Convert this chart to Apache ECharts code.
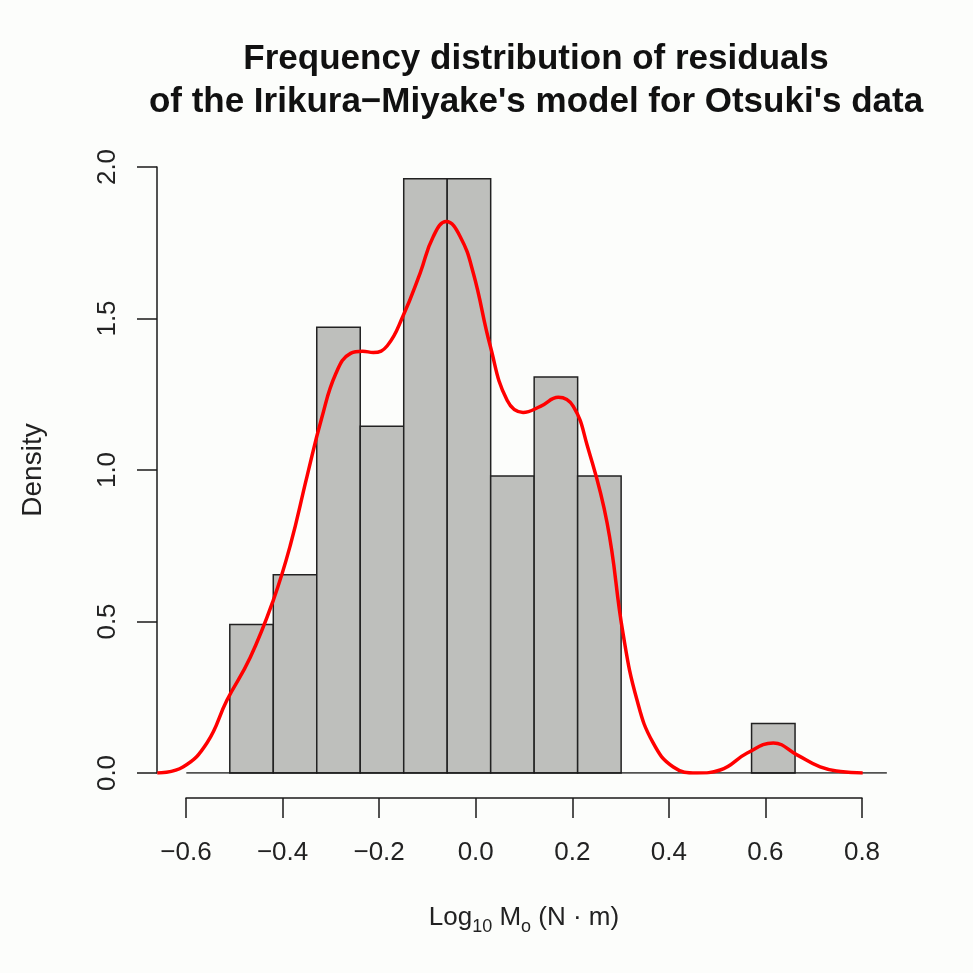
<!DOCTYPE html>
<html>
<head>
<meta charset="UTF-8">
<title>Residuals histogram</title>
<script src="https://cdn.jsdelivr.net/npm/echarts@6/dist/echarts.min.js"></script>
<style>
  html, body { margin: 0; padding: 0; background: #fcfdfb; }
  #chart { width: 973px; height: 973px; }
</style>
</head>
<body>
<div id="chart"></div>
<script>
// histogram bins (left edge, right edge) and density heights
const binLeft  = [-0.51, -0.42, -0.33, -0.24, -0.15, -0.06, 0.03, 0.12, 0.21, 0.30, 0.39, 0.48, 0.57];
const binRight = [-0.42, -0.33, -0.24, -0.15, -0.06, 0.03, 0.12, 0.21, 0.30, 0.39, 0.48, 0.57, 0.66];
const density  = [0.490, 0.654, 1.471, 1.144, 1.961, 1.961, 0.980, 1.307, 0.980, 0, 0, 0, 0.163];

// kernel density curve
const kdeX = [-0.66, -0.607, -0.557, -0.516, -0.468, -0.42, -0.385, -0.35, -0.32,
              -0.29, -0.26, -0.235, -0.213, -0.184, -0.151, -0.116, -0.089, -0.062, -0.033, -0.006,
              0.029, 0.064, 0.097, 0.133, 0.170, 0.201, 0.230, 0.271, 0.304, 0.333,
              0.366, 0.408, 0.457, 0.505, 0.561, 0.615, 0.664, 0.712, 0.754, 0.80];
const kdeY = [0.0, 0.02, 0.10, 0.24, 0.38, 0.57, 0.75, 0.98, 1.17,
              1.32, 1.385, 1.392, 1.388, 1.41, 1.51, 1.65, 1.77, 1.82, 1.77, 1.65,
              1.41, 1.23, 1.19, 1.21, 1.24, 1.21, 1.08, 0.825, 0.46, 0.24,
              0.10, 0.02, 0.0, 0.01, 0.066, 0.099, 0.06, 0.02, 0.005, 0.0];

// zero line
const baseX = [-0.6, 0.85];
const baseY = [0, 0];

const xTicks = [-0.6, 0.8, 0.2];   // min, max, step
const yTicks = [0, 2, 0.5];

const fmt = v => (v < 0 ? '\u2212' : '') + Math.abs(v).toFixed(1);
const font = 'Liberation Sans, Arial, sans-serif';
const ink = '#1a1a1a';

const chart = echarts.init(document.getElementById('chart'));

const histData = binLeft.map((l, i) => [l, binRight[i], density[i]]);

const option = {
  backgroundColor: '#fcfdfb',
  animation: false,
  title: {
    text: 'Frequency distribution of residuals\nof the Irikura\u2212Miyake\'s model for Otsuki\'s data',
    left: 531,
    top: 33,
    textAlign: 'center',
    textStyle: { fontFamily: font, fontWeight: 'bold', fontSize: 35, lineHeight: 43, color: '#111' }
  },
  grid: [
    // data area
    { left: 138, top: 167, width: 773, height: 606 },
    // x axis display
    { left: 186, top: 797, width: 676, height: 1 },
    // y axis display
    { left: 157, top: 167, width: 1, height: 606 }
  ],
  xAxis: [
    { gridIndex: 0, type: 'value', min: -0.7, max: 0.9, show: false },
    {
      gridIndex: 1, type: 'value', min: xTicks[0], max: xTicks[1], interval: xTicks[2],
      position: 'bottom',
      axisLine: { show: true, lineStyle: { color: ink, width: 1.5 } },
      axisTick: { show: true, length: 20, lineStyle: { color: ink, width: 1.5 } },
      splitLine: { show: false },
      axisLabel: { formatter: fmt, fontFamily: font, fontSize: 26, color: '#222', margin: 42 },
      name: '{n|Log}{s|10}{n| M}{s|o}{n| (N \u00b7 m)}',
      nameLocation: 'middle',
      nameGap: 106,
      nameTextStyle: {
        rich: {
          n: { fontFamily: font, fontSize: 26, color: '#222', lineHeight: 32, padding: [0, 0, 5, 0], verticalAlign: 'bottom' },
          s: { fontFamily: font, fontSize: 18, color: '#222', lineHeight: 32, verticalAlign: 'bottom' }
        }
      }
    },
    { gridIndex: 2, type: 'value', show: false }
  ],
  yAxis: [
    { gridIndex: 0, type: 'value', min: 0, max: 2, show: false },
    { gridIndex: 1, type: 'value', show: false },
    {
      gridIndex: 2, type: 'value', min: yTicks[0], max: yTicks[1], interval: yTicks[2],
      position: 'left',
      axisLine: { show: true, lineStyle: { color: ink, width: 1.5 } },
      axisTick: { show: true, length: 20, lineStyle: { color: ink, width: 1.5 } },
      splitLine: { show: false },
      axisLabel: { formatter: v => v.toFixed(1), rotate: 90, fontFamily: font, fontSize: 26, color: '#222', margin: 36 },
      name: 'Density',
      nameLocation: 'middle',
      nameRotate: 90,
      nameGap: 110,
      nameTextStyle: { fontFamily: font, fontSize: 28, color: '#222' }
    }
  ],
  series: [
    {
      type: 'custom',
      xAxisIndex: 0,
      yAxisIndex: 0,
      data: histData,
      renderItem: (params, api) => {
        const h = api.value(2);
        if (h <= 0) return null;
        const p0 = api.coord([api.value(0), h]);
        const p1 = api.coord([api.value(1), 0]);
        return {
          type: 'rect',
          shape: { x: p0[0], y: p0[1], width: p1[0] - p0[0], height: p1[1] - p0[1] },
          style: { fill: '#bebfbc', stroke: '#222', lineWidth: 1.5 }
        };
      },
      z: 2
    },
    {
      type: 'line',
      xAxisIndex: 0,
      yAxisIndex: 0,
      data: baseX.map((x, i) => [x, baseY[i]]),
      symbol: 'none',
      lineStyle: { color: ink, width: 1.5 },
      z: 3
    },
    {
      type: 'line',
      xAxisIndex: 0,
      yAxisIndex: 0,
      data: kdeX.map((x, i) => [x, kdeY[i]]),
      smooth: 0.45,
      symbol: 'none',
      lineStyle: { color: '#ff0000', width: 3.5 },
      z: 4
    }
  ]
};

chart.setOption(option);
</script>
</body>
</html>
